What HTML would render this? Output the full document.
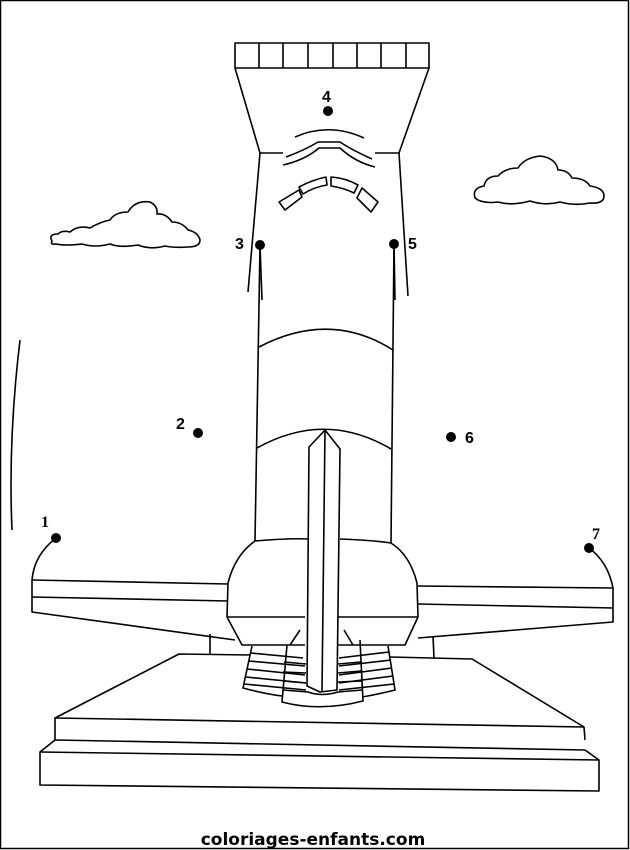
<!DOCTYPE html>
<html><head><style>
html,body{margin:0;padding:0;background:#fff;}
svg{display:block}
</style></head><body>
<svg width="630" height="850" viewBox="0 0 630 850" xmlns="http://www.w3.org/2000/svg">
<rect x="0.5" y="0.5" width="628" height="848" fill="#fff" stroke="#000" stroke-width="1.5"/>
<g fill="none" stroke="#000" stroke-width="1.6" stroke-linejoin="round">
<path d="M20 340 Q8 440 12 530"/>
<path d="M52 241 Q48 234 58 234 Q62 230 70 232 Q78 225 90 228 Q100 222 110 220 Q115 212 128 212 Q135 200 150 202 Q158 206 157 214 Q166 213 172 222 Q182 222 188 230 Q198 232 200 240 Q200 247 188 247 Q175 248 165 246 Q150 250 138 245 Q120 248 110 244 Q95 248 82 244 Q65 246 56 244 Q50 245 52 241 Z"/>
<path d="M475 198 Q472 188 484 186 Q486 176 498 176 Q505 168 518 168 Q524 158 540 156 Q556 158 558 170 Q568 170 572 178 Q585 178 590 186 Q604 188 604 196 Q604 204 590 203 Q575 206 560 202 Q545 206 530 201 Q512 206 498 202 Q482 204 475 198 Z"/>
<rect x="235" y="43" width="194" height="25"/>
<path d="M259 43V68M283 43V68M308 43V68M333 43V68M357 43V68M381 43V68M406 43V68"/>
<path d="M235 68 L260 153 L283 153 M429 68 L399 153 L375 153"/>
<path d="M260 153 L248 292 M399 153 L408 296"/>
<path d="M295 137 Q329 122 364 138"/>
<path d="M286 157 Q305 150 318 142 L340 142 Q352 150 372 159"/>
<path d="M283 165 Q305 160 319 148 L340 148 Q355 162 375 167"/>
<path d="M279 202 L299 190 L302 197 L285 210 Z"/>
<path d="M299 187 Q312 180 326 177 L327 185 Q314 187 303 194 Z"/>
<path d="M331 177 Q346 178 358 185 L354 193 Q344 188 331 186 Z"/>
<path d="M362 188 L378 202 L371 212 L357 198 Z"/>
<path d="M260 245 L255 541 M394 244 L391 543"/>
<path d="M259 347 Q330 310 393 350"/>
<path d="M257 448 Q325 410 391 449"/>
<path d="M309 447 L325 430 L340 449 L337 690 L320 692 L307 686 Z"/>
<path d="M325 430 L322 691"/>
<path d="M255 541 Q290 538 309 539 M340 539 Q370 540 391 543"/>
<path d="M255 541 Q235 555 228 583 L227 617 L242 645 L305 645 M391 543 Q410 555 417 583 L418 617 L405 645 L338 645"/>
<path d="M227 617 L305 617 M338 617 L418 617"/>
<path d="M56 538 Q34 555 32 580 L32 612 L235 640"/>
<path d="M32 580 L228 584 M32 597 L228 601"/>
<path d="M589 548 Q608 562 613 588 L613 622 L418 638"/>
<path d="M418 586 L613 588 M418 604 L613 608"/>
<path d="M210 634 L210 654 M433 636 L434 658"/>
<path d="M252 646 L243 688 Q265 694 282 696 M287 645 L282 702 Q320 712 363 701 L360 640 M388 646 L395 690 Q375 695 362 697"/>
<path d="M251 653 L303 658 M249 661 L305 666 M247 669 L305 675 M246 677 L306 683 M244 684 L306 690"/>
<path d="M339 658 L389 652 M339 666 L391 660 M339 675 L392 668 M339 683 L393 676 M339 690 L394 684"/>
<path d="M284 662 L306 664 M283 672 L306 673 M283 681 L306 683 M283 690 L308 692 Q322 697 338 692 L362 690 M338 664 L361 662 M338 673 L361 671 M338 682 L362 681"/>
<path d="M300 630 L290 645 M344 630 L353 645"/>
<path d="M250 655 L179 654 L55 718 L55 740 M390 657 L472 659 L584 727 L585 740"/>
<path d="M55 718 L584 727"/>
<path d="M55 740 L585 750 M55 740 L40 752 L40 785 L599 791 L599 760 L585 750"/>
<path d="M40 752 L599 760"/>
</g>
<g fill="#000">
<circle cx="56" cy="538" r="5"/><circle cx="198" cy="433" r="5"/><circle cx="260" cy="245" r="5"/>
<circle cx="328" cy="111" r="5"/><circle cx="394" cy="244" r="5"/><circle cx="451" cy="437" r="5"/><circle cx="589" cy="548" r="5"/>
</g>
<g fill="none" stroke="#000" stroke-width="1.6">
<path d="M260 245 L262 300 M394 244 L395 300"/>
</g>
<g font-family="Liberation Sans, sans-serif" font-weight="bold" font-size="16" fill="#000">
<text x="41" y="527" font-family="Liberation Serif, serif">1</text>
<text x="176" y="429">2</text>
<text x="235" y="249">3</text>
<text x="322" y="102">4</text>
<text x="408" y="249">5</text>
<text x="465" y="443">6</text>
<text x="592" y="539" font-family="Liberation Serif, serif">7</text>
</g>
<text x="313" y="845" text-anchor="middle" font-family="DejaVu Sans, sans-serif" font-weight="bold" font-size="17" fill="#000">coloriages-enfants.com</text>
</svg>
</body></html>
